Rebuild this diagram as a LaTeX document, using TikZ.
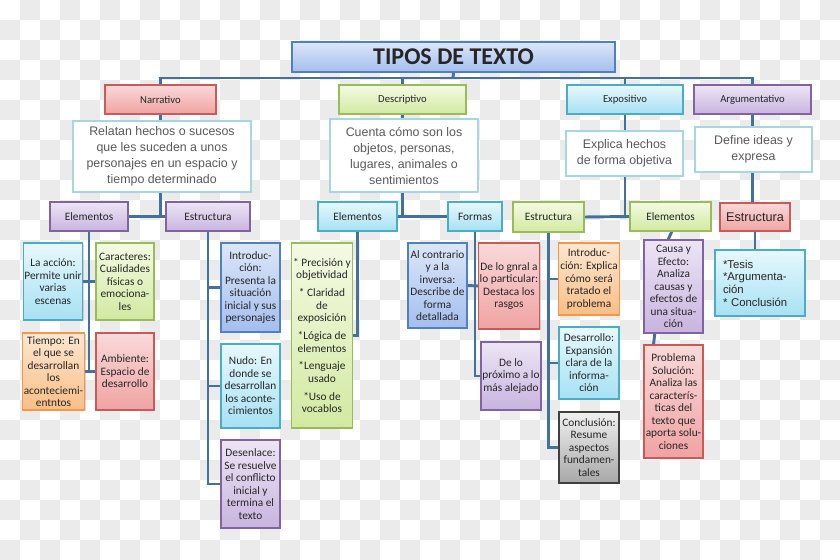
\documentclass[tikz,border=0pt]{standalone}
\usepackage{fontspec}
\setmainfont{Carlito}
\newfontfamily\arial{Liberation Sans}
\usepackage{tikz}
\usetikzlibrary{backgrounds,shadows}
\definecolor{linea}{HTML}{41719C}
\definecolor{cuadro}{HTML}{EBEBEB}
\definecolor{pinkT}{HTML}{F9D9D9}
\definecolor{pinkB}{HTML}{F0A3A3}
\definecolor{pinkD}{HTML}{C85A58}
\definecolor{lilaT}{HTML}{EDE5F5}
\definecolor{lilaB}{HTML}{C8B4DF}
\definecolor{lilaD}{HTML}{8064A2}
\definecolor{verdeT}{HTML}{F4FAE3}
\definecolor{verdeB}{HTML}{D2E9A1}
\definecolor{verdeD}{HTML}{9BBB59}
\definecolor{cianT}{HTML}{E7F8FD}
\definecolor{cianB}{HTML}{A6E1F3}
\definecolor{cianD}{HTML}{4BACC6}
\definecolor{azulT}{HTML}{DCE6F8}
\definecolor{azulB}{HTML}{A4BEEE}
\definecolor{azulD}{HTML}{4F81BD}
\definecolor{naranjaT}{HTML}{FDE7D1}
\definecolor{naranjaB}{HTML}{F9BE86}
\definecolor{naranjaD}{HTML}{F79646}
\definecolor{grisT}{HTML}{F0F0F0}
\definecolor{grisB}{HTML}{A8A8A8}
\definecolor{grisD}{HTML}{404040}
\definecolor{defnD}{HTML}{A6D6E3}
\definecolor{defnT}{HTML}{595959}

\begin{document}
\begin{tikzpicture}[x=0.75pt,y=-0.75pt,
    box/.style = {rectangle, draw, line width=0.8pt, inner sep=1pt, align=center,
        text=black!85, drop shadow={shadow xshift=0.8pt, shadow yshift=-0.8pt, opacity=0.3}},
    tipo/.style = {box, font=\fontsize{8}{9.5}\selectfont},
    sub/.style = {box, font=\fontsize{8.5}{10}\selectfont},
    item/.style = {box, font=\fontsize{8.5}{9.4}\selectfont},
    sz/.style 2 args = {minimum width=#1*0.75pt, minimum height=#2*0.75pt},
    pink/.style = {draw=pinkD, top color=pinkT, bottom color=pinkB},
    lila/.style = {draw=lilaD, top color=lilaT, bottom color=lilaB},
    verde/.style = {draw=verdeD, top color=verdeT, bottom color=verdeB},
    cian/.style = {draw=cianD, top color=cianT, bottom color=cianB},
    azul/.style = {draw=azulD, top color=azulT, bottom color=azulB},
    naranja/.style = {draw=naranjaD, top color=naranjaT, bottom color=naranjaB},
    gris/.style = {draw=grisD, top color=grisT, bottom color=grisB},
    defn/.style = {rectangle, draw=defnD, line width=1.5pt, fill=white, align=center,
        inner sep=1pt, text=defnT, font=\arial\fontsize{9.3}{12}\selectfont},
    conn/.style = {draw=linea, line width=2.2pt}]

\useasboundingbox (0,0) rectangle (840,560);

% Titulo
\node[box, azul, sz={323}{30}, font=\bfseries\fontsize{18}{20}\selectfont] (titulo) at (453.5,57) {TIPOS DE TEXTO};

% Tipos de texto
\node[tipo, pink, sz={111}{29}] (narr) at (160.5,99.5) {Narrativo};
\node[tipo, verde, sz={127}{29}] (desc) at (402.5,99.5) {Descriptivo};
\node[tipo, cian, sz={116}{29}] (expo) at (625,99.5) {Expositivo};
\node[tipo, lila, sz={117}{29}] (argu) at (752.5,99.5) {Argumentativo};

% Definiciones
\node[defn, sz={178}{71}] (narrdef) at (162,156.5) {Relatan hechos o sucesos\\que les suceden a unos\\personajes en un espacio y\\tiempo determinado};
\node[defn, sz={148}{73}] (descdef) at (404,155.5) {Cuenta cómo son los\\objetos, personas,\\lugares, animales o\\sentimientos};
\node[defn, sz={117}{45}] (expodef) at (624.5,153.5) {Explica hechos\\de forma objetiva};
\node[defn, sz={117}{45}] (argudef) at (753.5,149.5) {Define ideas y\\expresa};

% Narrativo
\node[sub, lila, sz={78}{29}] (narrelem) at (89,216.5) {Elementos};
\node[sub, lila, sz={84}{29}] (narrestr) at (208,216.5) {Estructura};
\node[item, cian, sz={58}{77}] (accion) at (53,281.5) {La acción:\\Permite unir\\varias\\escenas};
\node[item, verde, sz={58}{77}] (caract) at (125,281.5) {Caracteres:\\Cualidades\\físicas o\\emociona-\\les};
\node[item, naranja, sz={59}{77}] (tiempo) at (53.5,371.5) {Tiempo: En\\el que se\\desarrollan\\los\\aconteciemi-\\entntos};
\node[item, pink, sz={58}{77}] (ambiente) at (125,371.5) {Ambiente:\\Espacio de\\desarrollo};
\node[item, azul, sz={59}{89}] (nintro) at (250.5,287.5) {Introduc-\\ción:\\Presenta la\\situación\\inicial y sus\\personajes};
\node[item, cian, sz={59}{84}] (nudo) at (250.5,386) {Nudo: En\\donde se\\desarrollan\\los aconte-\\cimientos};
\node[item, lila, sz={59}{88}] (desenlace) at (250.5,484) {Desenlace:\\Se resuelve\\el conflicto\\inicial y\\termina el\\texto};

% Descriptivo
\node[sub, cian, sz={79}{29}] (descelem) at (357.5,216.5) {Elementos};
\node[sub, cian, sz={54}{29}] (formas) at (475,216.5) {Formas};
\node[item, verde, sz={60}{185}] (precision) at (322,335.5) {* Precisión y\\objetividad\\[4pt]* Claridad\\de\\exposición\\[4pt]*Lógica de\\elementos\\[4pt]*Lenguaje\\usado\\[4pt]*Uso de\\vocablos};
\node[item, azul, sz={59}{85}] (contrario) at (437.5,285.5) {Al contrario\\y a la\\inversa:\\Describe de\\forma\\detallada};
\node[item, pink, sz={58}{86}] (gnral) at (509,286) {De lo gnral a\\lo particular:\\Destaca los\\rasgos};
\node[item, lila, sz={60}{68}] (proximo) at (511,376) {De lo\\próximo a lo\\más alejado};

% Expositivo
\node[sub, verde, sz={71}{30}] (expoestr) at (548.5,217) {Estructura};
\node[sub, verde, sz={81}{29}] (expoelem) at (670.5,216.5) {Elementos};
\node[item, naranja, sz={60}{72}] (eintro) at (589,279) {Introduc-\\ción: Explica\\cómo será\\tratado el\\problema};
\node[item, cian, sz={60}{72}] (desarrollo) at (589,363) {Desarrollo:\\Expansión\\clara de la\\informa-\\ción};
\node[item, gris, sz={60}{71}] (conclusion) at (589,447.5) {Conclusión:\\Resume\\aspectos\\fundamen-\\tales};
\node[item, lila, sz={59}{93}] (causa) at (673.5,286.5) {Causa y\\Efecto:\\Analiza\\causas y\\efectos de\\una situa-\\ción};
\node[item, pink, sz={59}{113}] (problema) at (673.5,401.5) {Problema\\Solución:\\Analiza las\\caracterís-\\ticas del\\texto que\\aporta solu-\\ciones};

% Argumentativo
\node[box, pink, sz={70}{28}, font=\arial\fontsize{9.5}{11}\selectfont] (arguestr) at (755,217) {Estructura};
\node[box, cian, sz={90}{66}, align=left, text width=55.5pt, font=\arial\fontsize{8.5}{9.5}\selectfont] (tesis) at (760,283) {*Tesis\\{}*Argumenta-\\ción\\{}* Conclusión};

\begin{scope}[on background layer]
% Fondo a cuadros
\fill[white] (0,0) rectangle (840,560);
\foreach \x in {0,40,...,800}
  \foreach \y in {0,40,...,520} {
    \fill[cuadro] (\x+20,\y) rectangle +(20,20);
    \fill[cuadro] (\x,\y+20) rectangle +(20,20);
  }

% Lineas principales
\coordinate (bus) at (453,78);
\draw[conn] (titulo.south) -- (bus);
\draw[conn] (narr.north) |- (bus) -| (argu.north);
\draw[conn] (desc.north) -- (desc.north |- bus);
\draw[conn] (expo.north) -- (expo.north |- bus);

% Lineas narrativo
\draw[conn] (narr.south) -- (narr.south |- narrdef.north);
\draw[conn] (narr.south |- narrdef.south) -- (narr.south |- narrelem.east);
\draw[conn] (narrelem.east) -- (narrestr.west);
\draw[conn] (narrelem.south) -- (narrelem.south |- ambiente.west);
\draw[conn] (accion.east) -- (caract.west);
\draw[conn] (tiempo.east) -- (ambiente.west);
\draw[conn] (narrestr.south) |- (desenlace.west);
\draw[conn] (narrestr.south |- nintro.west) -- (nintro.west);
\draw[conn] (narrestr.south |- nudo.west) -- (nudo.west);

% Lineas descriptivo
\draw[conn] (desc.south) -- (desc.south |- descdef.north);
\draw[conn] (desc.south |- descdef.south) -- (desc.south |- descelem.east);
\draw[conn] (descelem.east) -- (formas.west);
\draw[conn] (descelem.south) |- (precision.east);
\draw[conn] (formas.south) |- (proximo.west);
\draw[conn] (contrario.east) -- (gnral.west);

% Lineas expositivo
\draw[conn] (expo.south) -- (expo.south |- expodef.north);
\draw[conn] (expo.south |- expodef.south) -- (expo.south |- expoelem.west);
\draw[conn] (expoestr.east) -- (expoelem.west);
\draw[conn] (expoestr.south) |- (conclusion.west);
\draw[conn] (expoestr.south |- eintro.west) -- (eintro.west);
\draw[conn] (expoestr.south |- desarrollo.west) -- (desarrollo.west);
\draw[conn] ([xshift=1pt]expoelem.south) -- ([xshift=-4pt]causa.north);
\draw[conn] ([xshift=-14pt]causa.south) -- ([xshift=-15pt]problema.north);

% Lineas argumentativo
\draw[conn] (argu.south) -- (argu.south |- argudef.north);
\draw[conn] (argu.south |- argudef.south) -- (argu.south |- arguestr.north);
\draw[conn] (arguestr.south) -- (arguestr.south |- tesis.north);
\end{scope}

\end{tikzpicture}
\end{document}
